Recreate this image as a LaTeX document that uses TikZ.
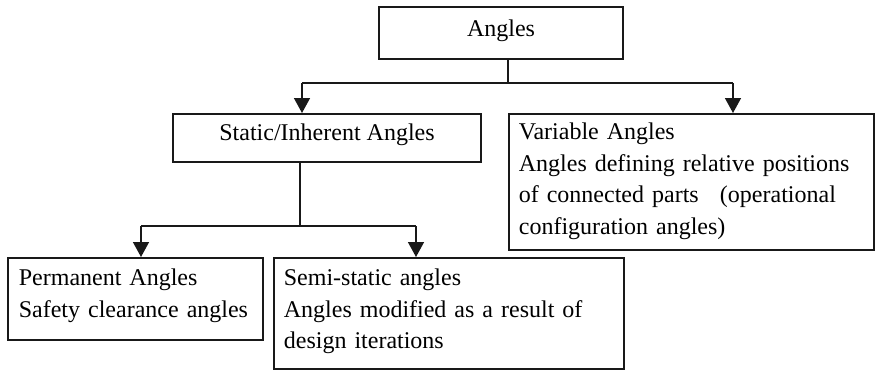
\documentclass[tikz,border=0pt]{standalone}
\usepackage{fontspec}
\setmainfont{Liberation Serif}
\usetikzlibrary{arrows.meta}
\begin{document}
\begin{tikzpicture}[x=1pt,y=-1pt,
  box/.style={draw=black!90, line width=1.7pt, inner ysep=0pt, font=\fontsize{24}{31.5}\selectfont},
  cbox/.style={box, inner xsep=0pt, align=center},
  lbox/.style={box, align=left, anchor=north west},
  conn/.style={draw=black!90, line width=1.5pt},
  arr/.style={conn, -{Triangle[width=16pt,length=15pt]}}]
\useasboundingbox (0,0) rectangle (876,370);
% boxes
\node[cbox, minimum width=244pt, text height=29pt, text depth=23pt] (top) at (501,33) {Angles};
\node[cbox, minimum width=308pt, text height=27pt, text depth=21pt, anchor=north] (stat) at (327,113) {Static/Inherent Angles};
\node[lbox, inner xsep=10pt, text width=345pt, text height=26pt, text depth=110pt] (var) at (508,113)
  {Variable Angles\\Angles defining relative positions\\of connected parts\hspace*{0.55em} (operational\\configuration angles)};
\node[lbox, inner xsep=11pt, text width=233pt, text height=28pt, text depth=54pt] (perm) at (7,257)
  {Permanent Angles\\Safety clearance angles};
\node[lbox, inner xsep=10pt, text width=330pt, text height=28pt, text depth=83pt] (semi) at (273,257)
  {Semi-static angles\\Angles modified as a result of\\design iterations};
% connectors
\coordinate (j1) at (508,83);
\coordinate (l1) at (302,83);
\coordinate (r1) at (733,83);
\draw[conn] (top.south -| j1) -- (j1);
\draw[conn] (l1) -- (r1);
\draw[arr] (l1) -- (stat.north -| l1);
\draw[arr] (r1) -- (var.north -| r1);
\coordinate (j2) at (300,226);
\coordinate (l2) at (141,226);
\coordinate (r2) at (416,226);
\draw[conn] (stat.south -| j2) -- (j2);
\draw[conn] (l2) -- (r2);
\draw[arr] (l2) -- (perm.north -| l2);
\draw[arr] (r2) -- (semi.north -| r2);
\end{tikzpicture}
\end{document}
